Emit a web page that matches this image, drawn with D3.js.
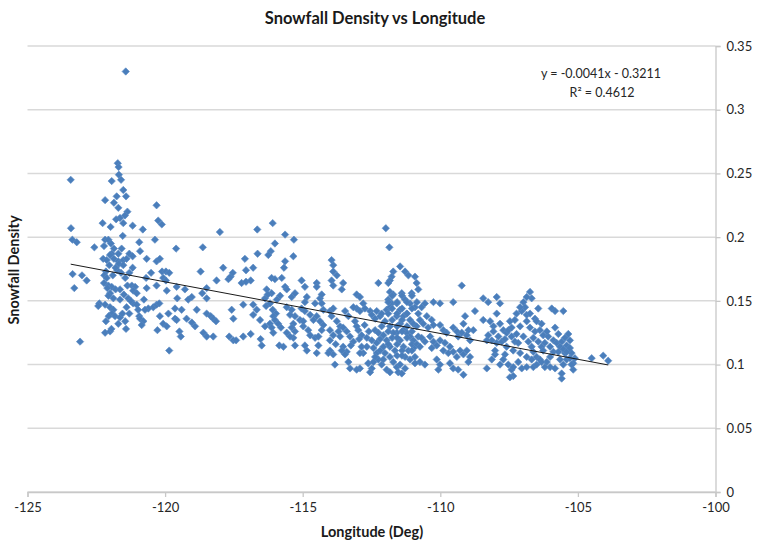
<!DOCTYPE html>
<html>
<head>
<meta charset="utf-8">
<script src="https://cdn.jsdelivr.net/npm/d3@7"></script>
<style>
  html, body { margin: 0; padding: 0; background: #ffffff; }
  svg { display: block; }
  text { font-family: Lato, "Open Sans", "Liberation Sans", sans-serif; }
</style>
</head>
<body>
<svg id="chart" width="757" height="545"></svg>
<script>
// ---------------- DATA (longitude in degrees, snowfall density) ----------------
const chartTitle = "Snowfall Density vs Longitude";
const xAxisTitle = "Longitude (Deg)";
const yAxisTitle = "Snowfall Density";
const xTicks = [-125, -120, -115, -110, -105, -100];
const yTicks = [0, 0.05, 0.1, 0.15, 0.2, 0.25, 0.3, 0.35];
const yTickLabels = ["0", "0.05", "0.1", "0.15", "0.2", "0.25", "0.3", "0.35"];
const trendSlope = -0.00405;
const trendIntercept = -0.3211;
const equationLabel = "y = -0.0041x - 0.3211";
const r2Label = "R\u00B2 = 0.4612";

const obsPeaks = [
  [-121.43,0.330],[-121.72,0.258],[-121.69,0.255],[-123.43,0.245],[-121.94,0.244],
  [-121.68,0.249],[-121.60,0.245],[-121.52,0.237]
];

const obsPacific = [
  [-121.76,0.232],[-121.86,0.227],[-122.18,0.229],[-121.42,0.232],[-121.70,0.223],
  [-121.37,0.220],[-121.46,0.217],[-120.31,0.225],[-121.64,0.215],[-121.78,0.214],
  [-121.52,0.211],[-122.27,0.211],[-121.98,0.208],[-121.18,0.209],[-120.25,0.213],
  [-120.12,0.210],[-123.42,0.207],[-120.81,0.206],[-121.54,0.201],[-122.18,0.198],
  [-122.06,0.198],[-121.97,0.195],[-123.37,0.198],[-123.21,0.196],[-120.94,0.196],
  [-120.37,0.198],[-118.01,0.204],[-122.57,0.192],[-122.22,0.193],[-121.58,0.191],
  [-121.86,0.191],[-121.94,0.187],[-122.00,0.186],[-121.70,0.187],[-121.30,0.187],
  [-120.91,0.189],[-119.60,0.191],[-118.63,0.192],[-122.25,0.183],[-122.12,0.182],
  [-121.86,0.183],[-121.70,0.181],[-121.52,0.182],[-121.40,0.183],[-121.18,0.185],
  [-120.67,0.183],[-120.31,0.181],[-120.19,0.183],[-121.68,0.179],[-121.52,0.178],
  [-121.18,0.176],[-122.15,0.173],[-121.74,0.174],[-118.71,0.173],[-123.36,0.171],
  [-123.02,0.170],[-122.85,0.166],[-122.21,0.170],[-122.12,0.168],[-120.51,0.172],
  [-120.69,0.168],[-120.11,0.173],[-119.97,0.173],[-119.85,0.172],[-120.07,0.168],
  [-119.97,0.166],[-118.13,0.166],[-122.22,0.164],[-122.06,0.162],[-121.94,0.161],
  [-122.10,0.160],[-121.37,0.162],[-121.21,0.162],[-121.09,0.161],[-120.31,0.162],
  [-120.67,0.160],[-123.30,0.160],[-119.58,0.161],[-119.28,0.159],[-118.49,0.160],
  [-121.80,0.159],[-121.64,0.159],[-121.16,0.158],[-121.03,0.156],[-119.94,0.158],
  [-118.65,0.156],[-122.00,0.156],[-122.06,0.154],[-119.03,0.153],[-119.16,0.151],
  [-119.56,0.152],[-118.49,0.152],[-121.64,0.151],[-121.34,0.152],[-120.77,0.151],
  [-121.16,0.148],[-121.03,0.147],[-122.39,0.148],[-122.43,0.146],[-122.18,0.147],
  [-122.00,0.145],[-121.88,0.143],[-120.43,0.145],[-120.31,0.147],[-120.21,0.148],
  [-120.61,0.144],[-120.73,0.143],[-119.64,0.144],[-119.40,0.143],[-118.85,0.143],
  [-121.94,0.140],[-121.82,0.138],[-120.94,0.138],[-120.91,0.136],[-120.19,0.138],
  [-119.88,0.140],[-118.49,0.140],[-118.34,0.138],[-118.25,0.136],[-121.64,0.137],
  [-119.64,0.136],[-119.58,0.135],[-119.22,0.136],[-122.15,0.134],[-120.79,0.134],
  [-120.85,0.131],[-120.07,0.132],[-119.94,0.130],[-119.03,0.133],[-118.91,0.130],
  [-118.15,0.134],[-122.18,0.125],[-122.00,0.126],[-121.42,0.128],[-120.28,0.127],
  [-119.48,0.126],[-119.43,0.122],[-118.61,0.125],[-118.49,0.122],[-118.25,0.122],
  [-123.09,0.118],[-119.85,0.111],
  [-117.89,0.176],[-117.70,0.167],[-117.62,0.169],[-117.54,0.172],[-117.58,0.143],
  [-117.52,0.136],[-117.67,0.122],[-117.52,0.119],
  [-122.03,0.178],[-121.80,0.176],[-121.90,0.170],[-121.60,0.172],[-121.45,0.168],
  [-121.30,0.172],[-121.88,0.152],[-121.50,0.155],[-121.40,0.145],[-121.55,0.140],
  [-121.30,0.140],[-121.70,0.132],[-121.45,0.134],[-122.05,0.138],[-121.95,0.128],
  [-121.25,0.150],[-120.98,0.143]
];

const obsGreatBasin = [
  [-116.09,0.211],[-116.65,0.206],[-115.64,0.202],[-116.01,0.195],[-116.16,0.189],
  [-116.25,0.186],[-116.64,0.187],[-115.64,0.181],[-115.68,0.176],[-117.10,0.183],
  [-116.80,0.176],[-117.06,0.174],[-117.22,0.164],[-117.06,0.165],[-116.89,0.166],
  [-116.13,0.168],[-116.01,0.167],[-115.76,0.168],[-115.64,0.161],[-115.58,0.159],
  [-116.31,0.159],[-116.13,0.156],[-115.82,0.154],[-115.94,0.151],[-116.37,0.152],
  [-116.27,0.155],[-117.16,0.147],[-116.80,0.147],[-116.67,0.143],[-116.33,0.146],
  [-116.19,0.148],[-116.09,0.143],[-115.97,0.140],[-115.58,0.145],[-116.07,0.138],
  [-116.01,0.135],[-115.89,0.132],[-115.79,0.129],[-116.80,0.139],[-117.42,0.119],
  [-117.16,0.122],[-116.89,0.124],[-116.53,0.120],[-116.49,0.115],[-115.85,0.115],
  [-115.70,0.114],[-116.19,0.132],[-116.13,0.129],[-116.55,0.135],[-116.37,0.130],
  [-115.58,0.125],[-116.07,0.125],
  [-115.32,0.198],[-111.98,0.207],[-111.85,0.192]
];

const obsRockies = [
  [-113.95,0.182],[-113.89,0.178],[-115.34,0.185],[-113.89,0.173],[-113.76,0.170],
  [-115.04,0.166],[-114.92,0.161],[-114.49,0.164],[-113.95,0.166],[-113.89,0.162],
  [-113.53,0.164],[-113.58,0.159],[-112.25,0.164],[-111.71,0.173],[-111.77,0.169],
  [-111.83,0.166],[-111.46,0.177],[-111.28,0.173],[-111.16,0.170],[-110.92,0.169],
  [-110.86,0.164],[-111.83,0.157],[-111.71,0.155],[-111.89,0.151],[-111.77,0.148],
  [-115.40,0.153],[-115.28,0.156],[-114.85,0.153],[-114.92,0.149],[-114.37,0.152],
  [-114.31,0.148],[-114.55,0.148],[-113.04,0.155],[-112.92,0.153],[-112.80,0.148],
  [-113.04,0.144],[-112.92,0.142],[-112.74,0.144],[-112.55,0.142],[-114.01,0.142],
  [-113.95,0.138],[-115.28,0.138],[-115.10,0.135],[-115.34,0.132],[-114.73,0.139],
  [-114.61,0.135],[-114.37,0.134],[-114.25,0.131],[-114.31,0.127],[-113.76,0.134],
  [-113.64,0.130],[-113.53,0.129],[-113.34,0.138],[-112.31,0.142],[-112.19,0.138],
  [-111.58,0.148],[-111.46,0.143],[-111.34,0.138],[-111.22,0.140],[-111.10,0.135],
  [-110.98,0.132],[-110.86,0.130],[-111.58,0.138],[-111.46,0.132],[-111.34,0.127],
  [-111.22,0.125],[-111.10,0.122],[-110.98,0.119],[-111.58,0.125],[-111.46,0.119],
  [-111.34,0.114],[-111.16,0.111],[-110.92,0.114],[-110.80,0.122],[-111.83,0.130],
  [-111.71,0.125],[-111.95,0.119],[-111.83,0.114],[-111.65,0.111],[-111.28,0.151],
  [-111.10,0.148],[-110.92,0.145],[-110.80,0.140],[-111.04,0.156],[-112.98,0.127],
  [-112.86,0.123],[-112.67,0.121],[-112.49,0.119],[-112.37,0.127],[-112.25,0.125],
  [-113.28,0.122],[-113.16,0.118],[-113.89,0.123],[-114.01,0.119],[-114.73,0.123],
  [-114.55,0.121],[-115.28,0.126],[-115.34,0.121],[-114.92,0.115],[-114.85,0.111],
  [-114.43,0.115],[-114.01,0.111],[-113.89,0.108],[-113.53,0.114],[-113.40,0.110],
  [-112.86,0.114],[-112.80,0.109],[-112.43,0.113],[-112.31,0.109],[-112.07,0.114],
  [-112.01,0.109],[-113.34,0.102],[-113.28,0.097],[-112.92,0.097],[-112.62,0.101],
  [-112.49,0.097],[-112.25,0.104],[-112.13,0.100],[-111.83,0.106],[-111.71,0.102],
  [-111.58,0.098],[-111.95,0.096],[-111.83,0.094],[-111.53,0.094],[-111.28,0.097],
  [-111.28,0.106],[-111.10,0.104],[-113.83,0.100],
  [-114.49,0.161],[-113.04,0.130],[-112.07,0.123],[-112.67,0.114],[-112.55,0.094],
  [-112.43,0.102],[-112.19,0.111],[-111.46,0.100],[-113.04,0.096],[-112.92,0.109],
  [-113.58,0.111],[-113.46,0.108],[-113.64,0.122],[-114.01,0.127],[-114.07,0.109],
  [-114.49,0.109],[-114.43,0.122],[-114.98,0.130],[-114.80,0.127],[-115.40,0.129],
  [-115.46,0.122],[-115.28,0.115],[-115.46,0.139],[-115.40,0.143],[-115.04,0.144],
  [-114.92,0.142],[-114.98,0.134],[-114.49,0.138],[-114.25,0.143],[-113.89,0.144],
  [-113.46,0.142],[-113.16,0.145],[-112.49,0.139],[-112.37,0.136],[-112.13,0.140],
  [-111.95,0.143],[-111.83,0.145],[-111.40,0.156],[-114.31,0.155],[-111.89,0.164],
  [-111.75,0.154],[-111.39,0.154],[-111.03,0.154],[-111.89,0.149],[-111.57,0.149],
  [-111.21,0.149],[-110.85,0.149],[-111.75,0.144],[-111.39,0.144],[-111.03,0.144],
  [-111.89,0.140],[-111.57,0.140],[-111.21,0.140],[-111.75,0.135],[-111.39,0.135],
  [-111.57,0.130],[-111.21,0.130],[-111.89,0.126],[-111.39,0.126],[-111.03,0.126],
  [-111.75,0.121],[-111.57,0.121],[-111.21,0.121],[-111.89,0.116],[-111.57,0.116],
  [-111.03,0.116],[-110.85,0.116],[-111.39,0.111],[-111.03,0.111],[-111.57,0.107],
  [-111.39,0.107],[-112.13,0.130],[-112.01,0.134],[-112.19,0.120],[-112.31,0.117],
  [-112.07,0.104],[-112.37,0.106],[-113.70,0.126],[-113.40,0.126],[-113.10,0.134],
  [-112.75,0.131],[-112.60,0.126],[-113.25,0.115],[-112.95,0.120],[-113.80,0.116]
];

const obsColoradoPlateau = [
  [-110.80,0.159],[-110.68,0.145],[-110.56,0.148],[-110.25,0.149],[-110.01,0.148],
  [-109.53,0.149],[-109.22,0.162],[-109.10,0.138],[-108.98,0.127],[-110.74,0.135],
  [-110.62,0.132],[-110.49,0.138],[-110.31,0.135],[-110.25,0.131],[-110.44,0.129],
  [-110.01,0.131],[-109.89,0.127],[-109.77,0.125],[-109.53,0.129],[-109.40,0.126],
  [-109.35,0.122],[-109.22,0.125],[-109.04,0.123],[-110.68,0.121],[-110.56,0.118],
  [-110.74,0.114],[-110.37,0.122],[-110.25,0.118],[-110.13,0.115],[-110.31,0.113],
  [-110.01,0.119],[-109.83,0.117],[-109.65,0.114],[-109.89,0.111],[-109.71,0.109],
  [-109.53,0.110],[-109.40,0.106],[-109.28,0.111],[-109.16,0.108],[-109.04,0.111],
  [-108.92,0.119],[-108.92,0.106],[-108.98,0.102],[-110.74,0.102],[-110.56,0.100],
  [-110.92,0.101],[-110.13,0.104],[-110.01,0.100],[-109.65,0.101],[-109.53,0.097],
  [-109.35,0.096],[-109.16,0.092],[-111.40,0.093],[-110.07,0.096],[-110.92,0.106],
  [-109.16,0.132]
];

const obsFrontRange = [
  [-106.74,0.157],[-106.68,0.152],[-108.44,0.152],[-108.26,0.149],[-107.95,0.153],
  [-107.83,0.148],[-108.74,0.142],[-106.98,0.149],[-106.92,0.145],[-107.04,0.142],
  [-106.86,0.139],[-106.44,0.144],[-105.95,0.144],[-105.83,0.142],[-105.53,0.142],
  [-106.56,0.136],[-106.50,0.134],[-108.19,0.134],[-108.07,0.130],[-107.83,0.132],
  [-107.71,0.127],[-107.47,0.134],[-107.29,0.135],[-105.83,0.129],[-108.26,0.123],
  [-108.13,0.119],[-107.95,0.117],[-107.77,0.118],[-107.59,0.125],[-107.41,0.122],
  [-107.29,0.118],[-106.74,0.129],[-106.56,0.126],[-106.38,0.127],[-106.26,0.123],
  [-106.62,0.121],[-106.44,0.118],[-106.32,0.114],[-106.08,0.122],[-105.89,0.119],
  [-105.77,0.117],[-105.59,0.118],[-105.41,0.115],[-105.29,0.119],[-105.35,0.111],
  [-105.23,0.109],[-105.11,0.105],[-104.50,0.105],[-104.08,0.107],[-103.90,0.103],
  [-108.01,0.108],[-108.31,0.097],[-107.71,0.104],[-107.53,0.100],[-107.41,0.096],
  [-107.35,0.091],[-107.17,0.102],[-107.04,0.097],[-106.68,0.104],[-106.62,0.098],
  [-106.13,0.102],[-106.01,0.098],[-105.83,0.097],[-105.65,0.104],[-105.53,0.100],
  [-105.41,0.104],[-105.17,0.096],[-105.59,0.089],[-107.47,0.090],
  [-108.80,0.127],[-107.10,0.145],[-107.10,0.130],[-106.86,0.134],[-106.13,0.126],
  [-105.65,0.114],[-108.31,0.119],[-108.01,0.111],[-107.59,0.114],[-107.35,0.111],
  [-107.17,0.117],[-107.10,0.109],[-106.86,0.106],[-106.62,0.110],[-106.50,0.106],
  [-106.38,0.104],[-106.86,0.098],[-106.26,0.111],[-106.01,0.106],[-105.47,0.109],
  [-105.29,0.105],[-105.59,0.093],[-105.17,0.101],[-106.20,0.098],[-107.35,0.098],
  [-106.86,0.153],
  [-108.07,0.126],[-107.89,0.122],[-107.65,0.120],[-107.53,0.127],[-107.41,0.129],
  [-107.23,0.124],[-106.98,0.122],[-106.80,0.118],[-106.68,0.114],[-106.20,0.117],
  [-106.01,0.114],[-105.89,0.110],[-105.71,0.110],[-105.53,0.112],[-105.41,0.110],
  [-105.29,0.113],[-105.23,0.100],[-106.50,0.100],[-106.32,0.102],[-107.83,0.100],
  [-107.65,0.108],[-108.13,0.104],[-106.74,0.140],[-106.32,0.132],[-105.71,0.124],
  [-105.47,0.121],[-105.35,0.124],[-107.95,0.140],[-108.44,0.135],[-107.23,0.140]
];

// ---------------- LAYOUT ----------------
const W = 757, H = 545;
const plot = { left: 27.5, right: 715.5, top: 46, bottom: 492 };

const svg = d3.select("#chart");
svg.append("rect").attr("width", W).attr("height", H).attr("fill", "#ffffff");

const x = d3.scaleLinear().domain([-125, -100]).range([plot.left, plot.right]);
const y = d3.scaleLinear().domain([0, 0.35]).range([plot.bottom, plot.top]);

const gridColor = "#d9d9d9";

// horizontal gridlines
svg.append("g").selectAll("line").data(yTicks).join("line")
  .attr("x1", plot.left).attr("x2", plot.right)
  .attr("y1", d => y(d)).attr("y2", d => y(d))
  .attr("stroke", gridColor).attr("stroke-width", 1.5);

// right value axis
const yAxis = d3.axisRight(y).tickValues(yTicks).tickSize(5).tickPadding(6)
  .tickFormat((d, i) => yTickLabels[i]);
const gy = svg.append("g").attr("transform", `translate(${plot.right},0)`).call(yAxis);
gy.select(".domain").attr("stroke", "#c8c8c8").attr("stroke-width", 1.3);
gy.selectAll(".tick line").attr("stroke", "#c8c8c8").attr("stroke-width", 1.3);
gy.selectAll(".tick text").attr("font-size", 13).attr("fill", "#262626")
  .attr("font-family", "Lato, 'Open Sans', sans-serif");

// bottom axis (plain hyphen-minus, as in the reference)
const xAxis = d3.axisBottom(x).tickValues(xTicks).tickSize(5).tickPadding(6)
  .tickFormat(d => String(d));
const gx = svg.append("g").attr("transform", `translate(0,${plot.bottom})`).call(xAxis);
gx.select(".domain").attr("stroke", "#c8c8c8").attr("stroke-width", 1.3);
gx.selectAll(".tick line").attr("stroke", "#c8c8c8").attr("stroke-width", 1.3);
gx.selectAll(".tick text").attr("font-size", 13).attr("fill", "#262626")
  .attr("font-family", "Lato, 'Open Sans', sans-serif");

// points
const observations = [].concat(obsPeaks, obsPacific, obsGreatBasin, obsRockies,
                               obsColoradoPlateau, obsFrontRange);
const diamond = d3.symbol().type(d3.symbolSquare).size(27)();
svg.append("g").selectAll("path").data(observations).join("path")
  .attr("d", diamond)
  .attr("transform", d => `translate(${x(d[0])},${y(d[1])}) rotate(45)`)
  .attr("fill", "#4a7ebb")
  .attr("stroke", "#5b8ac4").attr("stroke-width", 0.6);

// linear trendline over the data extent
const lonExtent = d3.extent(observations, d => d[0]);
const trend = lonExtent.map(v => [v, trendSlope * v + trendIntercept]);
svg.append("path")
  .attr("d", d3.line().x(d => x(d[0])).y(d => y(d[1]))(trend))
  .attr("fill", "none").attr("stroke", "#1a1a1a").attr("stroke-width", 1);

// trendline equation
svg.append("text").attr("x", 601).attr("y", 78).attr("text-anchor", "middle")
  .attr("font-size", 12.5).attr("fill", "#262626").text(equationLabel);
svg.append("text").attr("x", 602).attr("y", 97).attr("text-anchor", "middle")
  .attr("font-size", 12.5).attr("fill", "#262626").text(r2Label);

// titles
svg.append("text").attr("x", 375).attr("y", 24).attr("text-anchor", "middle")
  .attr("font-size", 16.5).attr("font-weight", "bold").attr("fill", "#1a1a1a").text(chartTitle);
svg.append("text").attr("x", 372).attr("y", 537).attr("text-anchor", "middle")
  .attr("font-size", 14.5).attr("font-weight", "bold").attr("fill", "#1a1a1a").text(xAxisTitle);
svg.append("text").attr("transform", "translate(19,270) rotate(-90)").attr("text-anchor", "middle")
  .attr("font-size", 14.5).attr("font-weight", "bold").attr("fill", "#1a1a1a").text(yAxisTitle);
</script>
</body>
</html>
